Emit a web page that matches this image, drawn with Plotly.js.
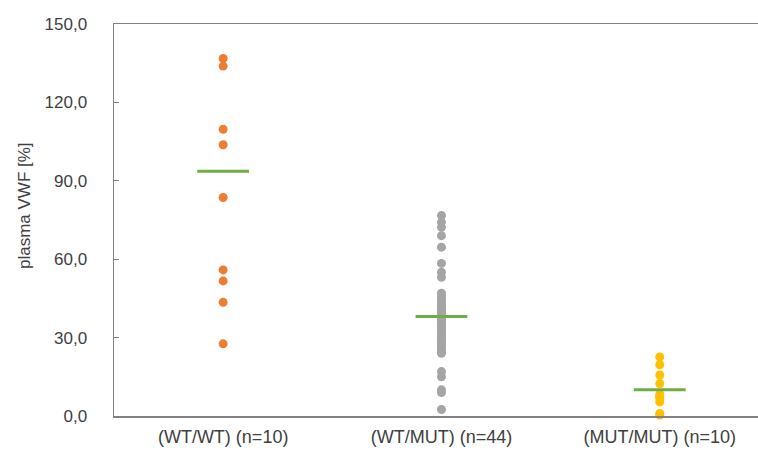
<!DOCTYPE html>
<html>
<head>
<meta charset="utf-8">
<script src="https://cdn.plot.ly/plotly-3.0.1.min.js"></script>
<style>html,body{margin:0;padding:0;background:#fff;}#chart{width:758px;height:450px;}</style>
</head>
<body>
<div id="chart"></div>
<script>
var categories = ["(WT/WT) (n=10)", "(WT/MUT) (n=44)", "(MUT/MUT) (n=10)"];
var wtwt = [136.8, 133.9, 109.7, 103.8, 83.6, 55.9, 51.7, 43.5, 27.6];
var wtmut = [76.7, 74.2, 72.2, 69.0, 64.6, 58.4, 55.0, 53.1,
  47, 46, 45, 44, 43, 42, 41.5, 41, 40, 39.5, 39, 38, 37, 36.5, 36, 35, 34, 33.5, 33, 32,
  31, 30.5, 30, 29, 28, 27.5, 27, 26, 25, 24.5, 24,
  17, 15, 10, 9, 2.5];
var mutmut = [22.6, 19.6, 15.7, 12.4, 8.3, 7.5, 6.8, 5.4, 1.0, 0.4];
var means = [93.7, 38.1, 10.0];
var yTicks = [0, 30, 60, 90, 120, 150];
var yTitle = "plasma VWF [%]";

var groups = [wtwt, wtmut, mutmut];
var colors = ["#ED7D31", "#A5A5A5", "#FFC000"];
var traces = [];
groups.forEach(function (g, i) {
  traces.push({
    type: "scatter", mode: "markers",
    x: g.map(function () { return i + 1; }), y: g,
    marker: {color: colors[i], size: 9},
    hoverinfo: "y", showlegend: false, cliponaxis: false
  });
});
traces.push({
  type: "scatter", mode: "markers",
  x: [1, 2, 3], y: means,
  marker: {symbol: "line-ew-open", size: 37, color: "#70AD47", line: {color: "#70AD47", width: 3}},
  showlegend: false
});

var txt = "#404040";
var layout = {
  width: 758, height: 450,
  margin: {l: 114, r: 0, t: 24, b: 34},
  paper_bgcolor: "#fff", plot_bgcolor: "#fff",
  separators: ",.",
  font: {family: "Liberation Sans, Arial, sans-serif", size: 17, color: txt},
  xaxis: {
    range: [0.5, 3.45], tickvals: [1, 2, 3], ticktext: categories,
    showgrid: false, zeroline: false, showline: true, mirror: true,
    linecolor: "#808080", linewidth: 1.5, ticks: "", ticklabelstandoff: 4,
    tickfont: {size: 18, color: txt}
  },
  yaxis: {
    range: [0, 150], tickvals: yTicks, tickformat: ".1f",
    showgrid: false, zeroline: false, showline: true, mirror: false,
    linecolor: "#808080", linewidth: 1.5, ticks: "inside", ticklen: 5, tickcolor: "#808080",
    ticklabelstandoff: 22,
    tickfont: {size: 17, color: txt}
  },
  annotations: [{
    text: yTitle, textangle: -90, showarrow: false,
    xref: "paper", yref: "paper", x: -0.138, y: 0.536,
    xanchor: "center", yanchor: "middle",
    font: {size: 17, color: txt}
  }]
};
Plotly.newPlot("chart", traces, layout, {displayModeBar: false, staticPlot: true});
</script>
</body>
</html>
